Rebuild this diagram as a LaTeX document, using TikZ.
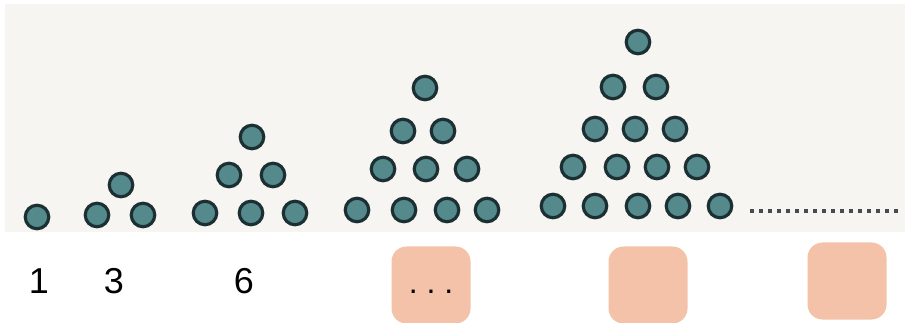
\documentclass[tikz,border=0pt]{standalone}
\usepackage{fontspec}
\setmainfont{Liberation Sans}
\usepackage{xcolor}
\usepackage{tikz}
\usetikzlibrary{positioning}
\definecolor{bgpanel}{RGB}{247,245,242}
\definecolor{dotfill}{RGB}{84,138,140}
\definecolor{dotrim}{RGB}{28,48,52}
\definecolor{cpeach}{RGB}{244,194,168}
\definecolor{dotline}{RGB}{70,75,78}

\begin{document}
\begin{tikzpicture}[
    x=1pt, y=-1pt,
    dot/.style={circle, draw=dotrim, fill=dotfill, line width=3.2pt, minimum size=23.5pt, inner sep=0pt},
    count/.style={font=\fontsize{36}{42}\selectfont, inner sep=0pt},
    answer/.style={rounded corners=15pt, fill=cpeach, minimum width=79pt, minimum height=77pt, inner sep=0pt},
]
    \useasboundingbox (0,0) rectangle (905,323);
    % Panel behind the dots
    \fill[bgpanel] (5,4) rectangle (905,232);

    % Triangles of dots
    \node[dot] (a1) at (37,217) {};

    \node[dot] (b1) at (97,215) {};
    \node[dot] (b2) at (143,215) {};
    \node[dot] (b3) at (121,185) {};

    \foreach \x/\y [count=\i] in {205/213, 251/213, 295/213, 229/175, 273/175, 252/137}
        \node[dot] (c\i) at (\x,\y) {};

    \foreach \x/\y [count=\i] in {357/210, 404/210, 447/210, 487/210, 383/169, 426/169, 467/169, 403/131, 443/131, 425/88}
        \node[dot] (d\i) at (\x,\y) {};

    \foreach \x/\y [count=\i] in {553/206, 595/206, 638/206, 678/206, 720/206, 573/167, 617/167, 657/167, 697/167, 595/129, 635/129, 675/129, 613/87, 656/87, 638/42}
        \node[dot] (e\i) at (\x,\y) {};

    % Continuation
    \coordinate (cont1) at (750,211);
    \coordinate (cont2) at (900,211);
    \draw[dotline, line width=4pt, dash pattern=on 4pt off 5pt] (cont1) -- (cont2);

    % Counts
    \node[count] (n1) at (39,281) {1};
    \node[count] (n3) at (114,281) {3};
    \node[count] (n6) at (244,281) {6};

    % Boxes to fill in
    \node[answer] (box1) at (431,285) {};
    \node[answer] (box2) at (648,285) {};
    \node[answer] (box3) at (847,281) {};
    \node[font=\fontsize{32}{32}\selectfont, inner sep=0pt, anchor=base] (gap) at (431,293) {.\ .\ .};
\end{tikzpicture}
\end{document}
